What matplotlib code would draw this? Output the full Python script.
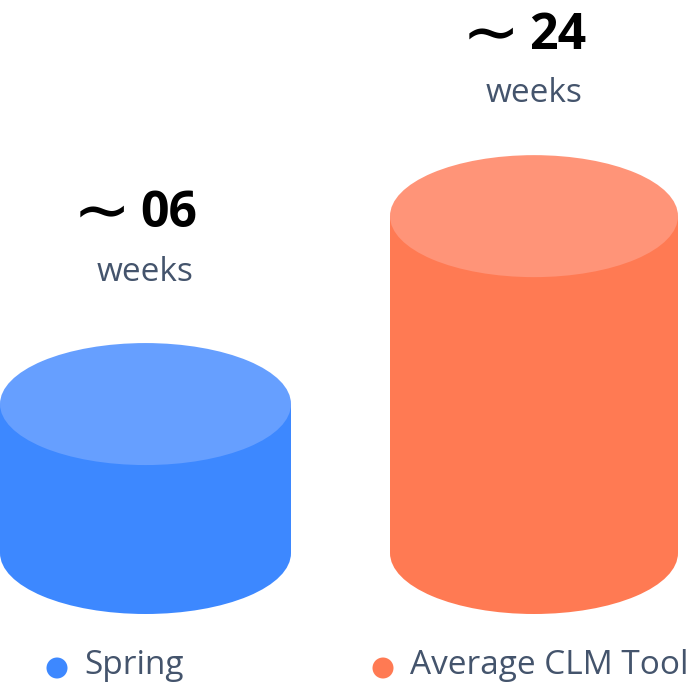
import matplotlib.pyplot as plt
from matplotlib.patches import Ellipse, Rectangle

plt.rcParams["mathtext.fontset"] = "dejavusans"

# data
categories = ["Spring", "Average CLM Tool"]
values = [6, 24]
value_labels = ["06", "24"]
unit = "weeks"
body_colors = ["#3D88FF", "#FF7A53"]
top_colors = ["#669FFF", "#FF9478"]

text_color = "#44546C"

fig = plt.figure(figsize=(6.96, 6.88), dpi=100)
ax = fig.add_axes([0, 0, 1, 1])
ax.set_xlim(0, 696)
ax.set_ylim(688, 0)
ax.axis("off")

# cylinder layout (pixel space)
centers = [145.5, 534]
half_w = [145.5, 144]
ry = 61
base_y = 553          # centre of bottom ellipse


def body_height(v):
    # visual scale used by the original graphic (not proportional)
    return 86.3 + 10.44 * v


for i, v in enumerate(values):
    cx = centers[i]
    w = half_w[i]
    h = body_height(v)
    top_y = base_y - h
    ax.add_patch(Ellipse((cx, base_y), 2 * w, 2 * ry, color=body_colors[i], lw=0))
    ax.add_patch(Rectangle((cx - w, top_y), 2 * w, h, color=body_colors[i], lw=0))
    ax.add_patch(Ellipse((cx, top_y), 2 * w, 2 * ry, color=top_colors[i], lw=0))

    # value annotation above the cylinder (kept inside the figure)
    ty = max(top_y - 190, 36)
    ax.text(cx - 20, ty - 2, r"$\sim$", ha="right", va="center", fontsize=50,
            color="black")
    ax.text(cx - 5, ty, value_labels[i], ha="left", va="center", fontsize=36,
            fontweight="bold", color="black", family="Open Sans")
    ax.text(cx, ty + 58, unit, ha="center", va="center", fontsize=24,
            color=text_color, family="Open Sans")

# legend
legend_x = [57, 383]
for i, name in enumerate(categories):
    ax.add_patch(Ellipse((legend_x[i], 668), 21, 21, color=body_colors[i], lw=0))
    ax.text(legend_x[i] + 27, 665, name, ha="left", va="center", fontsize=24,
            color=text_color, family="Open Sans")

fig.savefig("out.png", dpi=100)
